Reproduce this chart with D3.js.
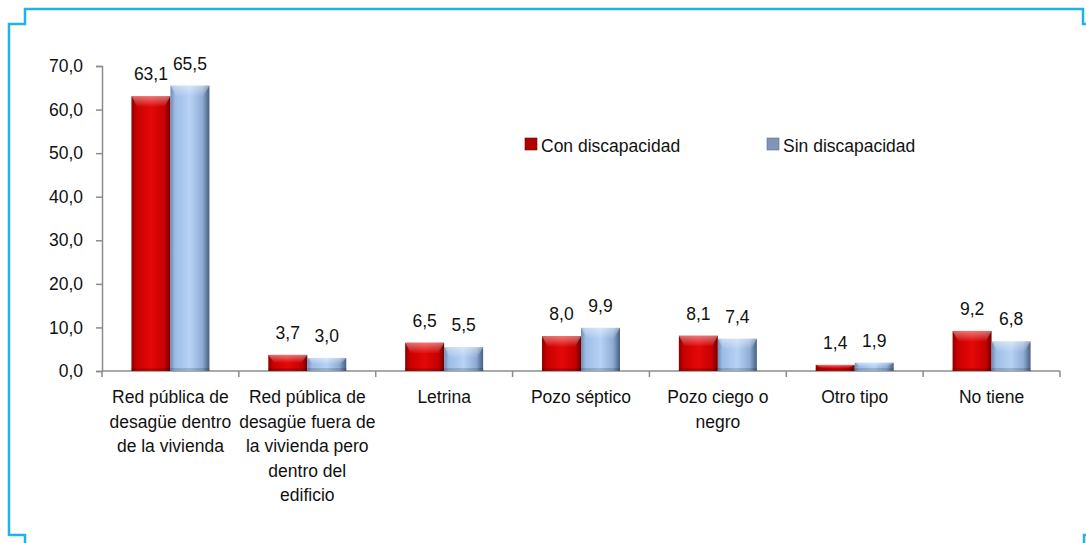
<!DOCTYPE html>
<html>
<head>
<meta charset="utf-8">
<script src="https://cdn.jsdelivr.net/npm/d3@7"></script>
<style>
  body { margin: 0; background: #fff; }
  svg { display: block; font-family: 'Liberation Sans', Arial, sans-serif; }
</style>
</head>
<body>
<div id="chart"></div>
<script>
const categories = [
  ['Red pública de', 'desagüe dentro', 'de la vivienda'],
  ['Red pública de', 'desagüe fuera de', 'la vivienda pero', 'dentro del', 'edificio'],
  ['Letrina'],
  ['Pozo séptico'],
  ['Pozo ciego o', 'negro'],
  ['Otro tipo'],
  ['No tiene']
]
const series = ['Con discapacidad', 'Sin discapacidad']
const conValues = [63.1, 3.7, 6.5, 8.0, 8.1, 1.4, 9.2]
const sinValues = [65.5, 3.0, 5.5, 9.9, 7.4, 1.9, 6.8]
const yTicks = [0, 10, 20, 30, 40, 50, 60, 70]

const width = 1086
const height = 543
const fontSize = 17.5

const locale = d3.formatLocale({ decimal: ',', thousands: '.', grouping: [3], currency: ['', ''] })
const fmt = locale.format('.1f')

const rows = categories.map((c, i) => ({ key: i, lines: c, values: [conValues[i], sinValues[i]] }))

const svg = d3.select('#chart').append('svg')
  .attr('width', width)
  .attr('height', height)

// gradients for the bevelled bars
const defs = svg.append('defs')
function hGrad (id, stops) {
  let g = defs.append('linearGradient').attr('id', id)
    .attr('x1', 0).attr('x2', 1).attr('y1', 0).attr('y2', 0)
  stops.forEach(s => g.append('stop').attr('offset', s[0]).attr('stop-color', s[1]))
}
hGrad('g-red', [[0, '#8e0000'], [0.12, '#c80000'], [0.5, '#e40808'], [0.85, '#c60000'], [1, '#6e0000']])
hGrad('g-blue', [[0, '#6f8cb4'], [0.12, '#9dbde6'], [0.5, '#b6d2f4'], [0.82, '#8eacd4'], [1, '#475f80']])
let cap = defs.append('linearGradient').attr('id', 'g-cap')
  .attr('x1', 0).attr('x2', 0).attr('y1', 0).attr('y2', 1)
cap.append('stop').attr('offset', 0).attr('stop-color', '#fff').attr('stop-opacity', 0.45)
cap.append('stop').attr('offset', 1).attr('stop-color', '#fff').attr('stop-opacity', 0)

const fills = ['url(#g-red)', 'url(#g-blue)']
const swatch = ['#b00000', '#7f96b8']

// frame
svg.append('path')
  .attr('d', 'M9,536 V24 H25 V9 H1083 V24 H1086 M9,535 H25 V543 M1084,543 V535 H1086')
  .attr('fill', 'none')
  .attr('stroke', '#1cb4ea')
  .attr('stroke-width', 2.5)

const x = d3.scaleBand()
  .domain(rows.map(d => d.key))
  .range([102, 1060])

const xSub = d3.scaleBand()
  .domain([0, 1])
  .range([0, x.bandwidth()])
  .paddingOuter(0.755)

const y = d3.scaleLinear()
  .domain([0, 70])
  .range([371, 66])

// y axis
const yAxis = svg.append('g')
  .attr('transform', 'translate(102,0)')
  .call(d3.axisLeft(y).tickValues(yTicks).tickFormat(fmt).tickSize(6).tickPadding(13))
yAxis.select('.domain').attr('stroke', '#8c8c8c').attr('stroke-width', 1.5)
yAxis.selectAll('.tick line').attr('stroke', '#8c8c8c').attr('stroke-width', 1.5)
yAxis.selectAll('.tick text')
  .attr('font-size', fontSize)
  .attr('font-family', "'Liberation Sans', Arial, sans-serif")
  .attr('fill', '#111')

// x axis: line plus ticks at category boundaries
const xg = svg.append('g')
xg.append('line')
  .attr('x1', 102).attr('x2', 1060)
  .attr('y1', y(0)).attr('y2', y(0))
  .attr('stroke', '#8c8c8c').attr('stroke-width', 1.5)
xg.selectAll('.bound')
  .data(rows.map(d => x(d.key)).concat([x.range()[1]]))
  .join('line')
  .attr('class', 'bound')
  .attr('x1', d => d).attr('x2', d => d)
  .attr('y1', y(0)).attr('y2', y(0) + 6)
  .attr('stroke', '#8c8c8c').attr('stroke-width', 1.5)

// category labels
xg.selectAll('text.cat')
  .data(rows)
  .join('text')
  .attr('class', 'cat')
  .attr('text-anchor', 'middle')
  .attr('font-size', fontSize)
  .attr('fill', '#111')
  .each(function (d) {
    d3.select(this).selectAll('tspan')
      .data(d.lines)
      .join('tspan')
      .attr('x', x(d.key) + x.bandwidth() / 2)
      .attr('y', (l, i) => y(0) + 32 + i * 24.6)
      .text(l => l)
  })

// bars
const groups = svg.append('g').selectAll('g')
  .data(rows)
  .join('g')
  .attr('transform', d => `translate(${x(d.key)},0)`)

const bars = groups.selectAll('g')
  .data(d => d.values.map((v, i) => ({ s: i, v })))
  .join('g')

bars.append('rect')
  .attr('x', d => xSub(d.s))
  .attr('y', d => y(d.v))
  .attr('width', xSub.bandwidth())
  .attr('height', d => y(0) - y(d.v))
  .attr('fill', d => fills[d.s])

// bevelled top cap
bars.append('path')
  .attr('d', d => {
    let x0 = xSub(d.s), w = xSub.bandwidth(), t = y(d.v)
    let h = Math.min(11, (y(0) - t) / 2)
    return `M${x0},${t} H${x0 + w} L${x0 + w - 6},${t + h} H${x0 + 6} Z`
  })
  .attr('fill', 'url(#g-cap)')

bars.append('rect')
  .attr('x', d => xSub(d.s))
  .attr('y', d => y(0) - 3)
  .attr('width', xSub.bandwidth())
  .attr('height', 3)
  .attr('fill', '#000')
  .attr('opacity', 0.15)

// value labels
bars.append('text')
  .attr('x', d => xSub(d.s) + xSub.bandwidth() / 2)
  .attr('y', d => y(d.v) - 16)
  .attr('text-anchor', 'middle')
  .attr('font-size', fontSize)
  .attr('fill', '#111')
  .text(d => fmt(d.v))

// legend
const legendX = [525, 767]
const legend = svg.append('g').selectAll('g')
  .data(series)
  .join('g')
  .attr('transform', (d, i) => `translate(${legendX[i]},138)`)
legend.append('rect')
  .attr('width', 12).attr('height', 12)
  .attr('fill', (d, i) => swatch[i])
  .attr('stroke', (d, i) => i ? '#5a6e8c' : '#7a0000')
  .attr('stroke-width', 0.6)
legend.append('text')
  .attr('x', 16)
  .attr('y', 13.5)
  .attr('font-size', fontSize)
  .attr('fill', '#111')
  .text(d => d)
</script>
</body>
</html>
